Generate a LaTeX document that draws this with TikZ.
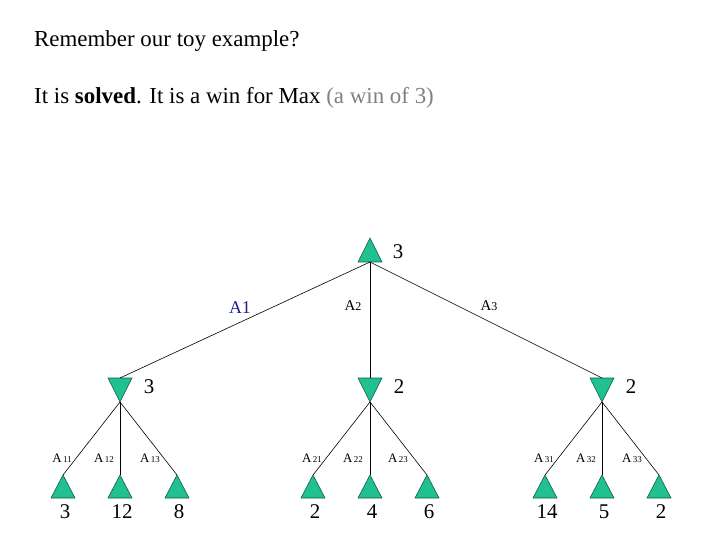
\documentclass[tikz,border=0pt]{standalone}
\usepackage{fontspec}
\setmainfont{Liberation Serif}
\begin{document}
\begin{tikzpicture}[x=1bp,y=-1bp,
  tri/.style={fill={rgb,255:red,32;green,192;blue,144},draw={rgb,255:red,20;green,90;blue,70},line width=0.6pt},
  val/.style={font=\fontsize{21}{23}\selectfont,inner sep=0},
  lab/.style={font=\fontsize{15}{17}\selectfont,inner sep=0},
  edge/.style={line width=0.6pt}]
\useasboundingbox (0,0) rectangle (720,540);
\node[anchor=west,font=\fontsize{23}{26}\selectfont,inner sep=0] (t1) at (34,41) {Remember our toy example?};
\node[anchor=west,font=\fontsize{23}{26}\selectfont,inner sep=0] (t2) at (34,98) {It is \textbf{solved}. It is a win for Max \textcolor[gray]{0.5}{(a win of 3)}};
% root
\draw[tri] (358,262) -- (370,238) -- (382,262) -- cycle;
\coordinate (r) at (370,262);
\node[val] (rv) at (398,252) {3};
% min nodes
\foreach \n/\x/\v in {m1/120/3,m2/370/2,m3/602/2}{
  \draw[tri] (\x-12,378) -- (\x+12,378) -- (\x,402) -- cycle;
  \coordinate (\n t) at (\x,378);
  \coordinate (\n b) at (\x,402);
  \node[val] (\n v) at (\x+29,387) {\v};
}
\draw[edge] (r) -- (m1t);
\draw[edge] (r) -- (m2t);
\draw[edge] (r) -- (m3t);
\node[lab,text={rgb,255:red,30;green,30;blue,140},font=\fontsize{18}{20}\selectfont] (a1) at (240,308) {A1};
\node[lab] (a2) at (353,306) {A\fontsize{12}{14}\selectfont 2};
\node[lab] (a3) at (489,306) {A\fontsize{12}{14}\selectfont 3};
% leaves
\foreach \m/\i/\x/\v in {m1/1/63/3,m1/2/120/12,m1/3/177/8,m2/1/313/2,m2/2/370/4,m2/3/427/6,m3/1/545/14,m3/2/602/5,m3/3/659/2}{
  \draw[tri] (\x-12,498) -- (\x,475) -- (\x+12,498) -- cycle;
  \coordinate (\m l\i) at (\x,475);
  \draw[edge] (\m b) -- (\m l\i);
  \node[val] (\m lv\i) at (\x+2,512) {\v};
}
\foreach \k/\x/\y in {11/62/458,12/104/458,13/150/458,21/312/458,22/353/458,23/398/458,31/544/458,32/586/458,33/632/458}{
  \node[lab,font=\fontsize{13}{15}\selectfont] (l\k) at (\x,\y) {A\fontsize{9}{10}\selectfont\,\k};
}
\end{tikzpicture}
\end{document}
